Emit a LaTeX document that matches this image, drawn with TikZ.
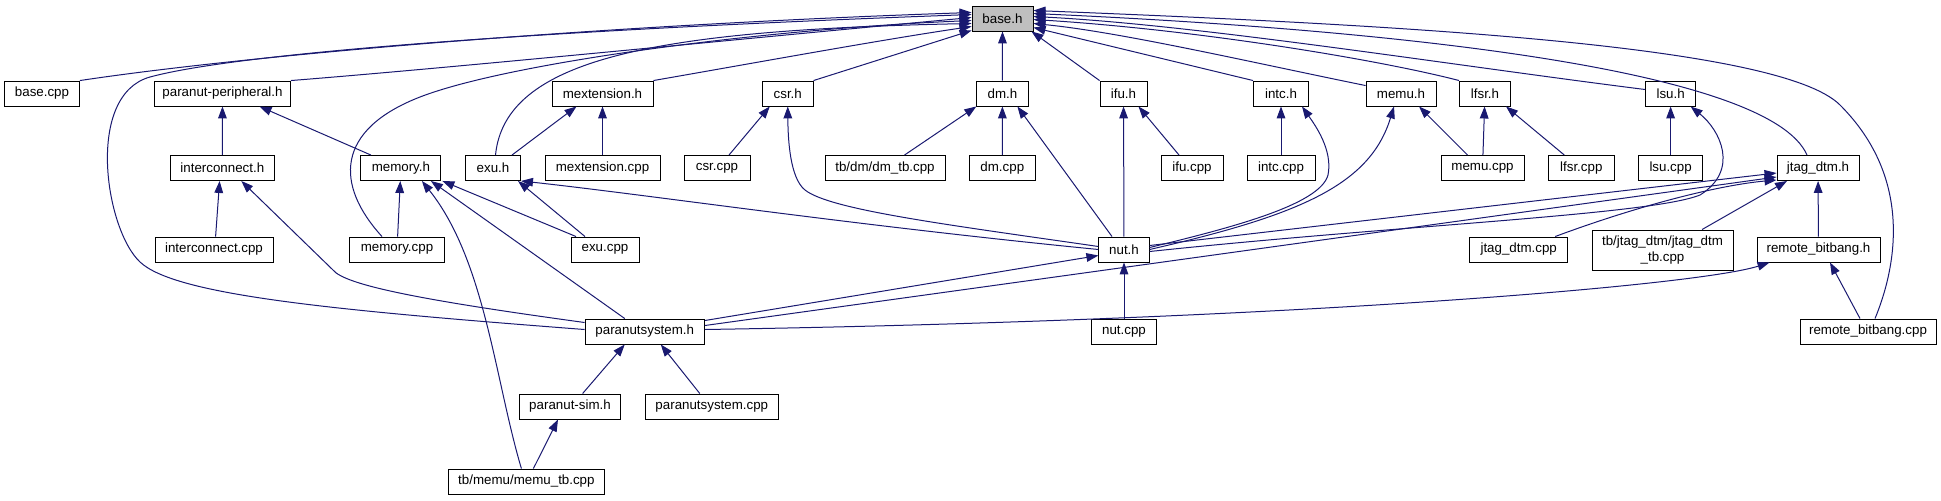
\documentclass[tikz,border=0pt]{standalone}
\usepackage{fontspec}
\setmainfont{Liberation Sans}
\usetikzlibrary{arrows.meta, calc}
\definecolor{edgeblue}{RGB}{25,25,112}
\definecolor{selgray}{RGB}{191,191,191}

\begin{document}
\begin{tikzpicture}[
    x=0.75pt, y=-0.75pt,
    file/.style={rectangle, draw=black, fill=white, line width=0.7pt, minimum height=18.75pt, inner sep=0pt, align=center, font=\fontsize{10}{12.5}\selectfont},
    cur/.style={file, fill=selgray},
    arr/.style={-{Triangle[length=9pt, width=6.5pt]}, line width=0.75pt, color=edgeblue}
]
\useasboundingbox (0,0) rectangle (1941,500);

% the file itself
\node[cur, minimum width=45.75pt] (baseh) at (1002.5,18.5) {base.h};

% direct includers
\node[file, minimum width=56.25pt] (basecpp) at (42,93.5) {base.cpp};
\node[file, minimum width=102pt] (periph) at (222.5,93.5) {paranut-peripheral.h};
\node[file, minimum width=75.75pt] (mexth) at (602.5,93.5) {mextension.h};
\node[file, minimum width=38pt] (csrh) at (787.75,93.5) {csr.h};
\node[file, minimum width=38.4pt] (dmh) at (1002.4,93.5) {dm.h};
\node[file, minimum width=35.25pt] (ifuh) at (1123.5,93.5) {ifu.h};
\node[file, minimum width=41.25pt] (intch) at (1281,93.5) {intc.h};
\node[file, minimum width=52.5pt] (memuh) at (1401,93.5) {memu.h};
\node[file, minimum width=38.25pt] (lfsrh) at (1485,93.5) {lfsr.h};
\node[file, minimum width=37.5pt] (lsuh) at (1670.6,93.5) {lsu.h};

\node[file, minimum width=78.5pt] (interh) at (222.3,168) {interconnect.h};
\node[file, minimum width=60pt] (memoryh) at (400.9,168) {memory.h};
\node[file, minimum width=41.25pt] (exuh) at (493,168) {exu.h};
\node[file, minimum width=86.25pt] (mextcpp) at (602.5,168) {mextension.cpp};
\node[file, minimum width=49.5pt] (csrcpp) at (717,168) {csr.cpp};
\node[file, minimum width=90pt] (dmtbcpp) at (885,168) {tb/dm/dm\_tb.cpp};
\node[file, minimum width=49pt] (dmcpp) at (1002.3,168) {dm.cpp};
\node[file, minimum width=46.5pt] (ifucpp) at (1192,168) {ifu.cpp};
\node[file, minimum width=51pt] (intccpp) at (1281,168) {intc.cpp};
\node[file, minimum width=62.25pt] (memucpp) at (1482.5,168) {memu.cpp};
\node[file, minimum width=49pt] (lfsrcpp) at (1581.3,168) {lfsr.cpp};
\node[file, minimum width=48pt] (lsucpp) at (1670.6,168) {lsu.cpp};
\node[file, minimum width=61.5pt] (jtagh) at (1818,168) {jtag\_dtm.h};

\node[file, minimum width=88.5pt] (intercpp) at (214,249.5) {interconnect.cpp};
\node[file, minimum width=71.25pt] (memorycpp) at (397,249.5) {memory.cpp};
\node[file, minimum width=51pt] (exucpp) at (605,249.5) {exu.cpp};
\node[file, minimum width=37.7pt] (nuth) at (1124,249.5) {nut.h};
\node[file, minimum width=73.5pt] (jtagcpp) at (1518.7,249.5) {jtag\_dtm.cpp};
\node[file, minimum width=105.75pt, minimum height=30pt] (jtagtbcpp) at (1662.5,250) {tb/jtag\_dtm/jtag\_dtm\\\_tb.cpp};
\node[file, minimum width=92.25pt] (rbbh) at (1818.5,249.5) {remote\_bitbang.h};

\node[file, minimum width=89.6pt] (psysh) at (644.75,331.5) {paranutsystem.h};
\node[file, minimum width=49.3pt] (nutcpp) at (1124,331.5) {nut.cpp};
\node[file, minimum width=102pt] (rbbcpp) at (1868,331.5) {remote\_bitbang.cpp};

\node[file, minimum width=75.4pt] (simh) at (570,406.5) {paranut-sim.h};
\node[file, minimum width=100.2pt] (psyscpp) at (711.8,406.5) {paranutsystem.cpp};

\node[file, minimum width=116.5pt] (memutb) at (526.4,481.5) {tb/memu/memu\_tb.cpp};

% into base.h
\draw[arr] (basecpp.north east) .. controls (250,55) and (600,25) .. ($(baseh.west)+(0,-6)$);
\draw[arr] ($(psysh.west)+(0,-2)$) .. controls (330,310) and (175,295) .. (140,262) .. controls (105,229) and (85,95) .. (150,77) .. controls (250,50) and (600,28) .. ($(baseh.west)+(0,-4)$);
\draw[arr] (periph.north east) .. controls (450,68) and (750,38) .. ($(baseh.west)+(0,-1)$);
\draw[arr] ($(memorycpp.north)+(-15,0)$) .. controls (335,185) and (335,130) .. (420,97) .. controls (505,64) and (750,30) .. ($(baseh.west)+(0,2)$);
\draw[arr] ($(exuh.north)+(2.5,0)$) .. controls (505,60) and (650,30) .. ($(baseh.west)+(0,5)$);
\draw[arr] (mexth.north east) .. controls (760,62) and (880,40) .. ($(baseh.west)+(0,8)$);
\draw[arr] (csrh.north east) -- ($(baseh.south west)+(0,-1)$);
\draw[arr] (dmh) -- (baseh);
\draw[arr] (ifuh.north west) -- ($(baseh.south east)+(-2,0)$);
\draw[arr] (intch.north west) -- ($(baseh.east)+(0,9)$);
\draw[arr] ($(memuh.north west)+(0,5)$) .. controls (1250,62) and (1120,32) .. ($(baseh.east)+(0,5)$);
\draw[arr] (lfsrh.north west) .. controls (1380,60) and (1200,30) .. ($(baseh.east)+(0,1)$);
\draw[arr] ($(lsuh.west)+(0,-4)$) .. controls (1450,65) and (1200,25) .. ($(baseh.east)+(0,-2)$);
\draw[arr] ($(jtagh.north)+(-11,0)$) .. controls (1770,70) and (1400,30) .. ($(baseh.east)+(0,-5)$);
\draw[arr] ($(rbbcpp.north)+(7,0)$) .. controls (1895,270) and (1915,180) .. (1840,105) .. controls (1780,45) and (1400,25) .. ($(baseh.east)+(0,-8)$);

% second level
\draw[arr] (interh) -- (periph);
\draw[arr] ($(memoryh.north)+(-30,0)$) -- ($(periph.south)+(37,0)$);
\draw[arr] ($(exuh.north)+(19,0)$) -- ($(mexth.south)+(-26,0)$);
\draw[arr] (mextcpp) -- (mexth);
\draw[arr] ($(csrcpp.north)+(12,0)$) -- ($(csrh.south)+(-18,0)$);
\draw[arr] ($(nuth.west)+(0,-3)$) .. controls (950,225) and (830,210) .. (805,190) .. controls (790,178) and (788,140) .. (csrh.south);
\draw[arr] ($(dmtbcpp.north)+(19.5,0)$) -- (dmh.south west);
\draw[arr] (dmcpp) -- (dmh);
\draw[arr] ($(nuth.north)+(-12,0)$) -- ($(dmh.south)+(15,0)$);
\draw[arr] (nuth) -- (ifuh);
\draw[arr] ($(ifucpp.north)+(-13,0)$) -- ($(ifuh.south)+(15,0)$);
\draw[arr] (intccpp) -- (intch);
\draw[arr] ($(nuth.east)+(0,-2)$) .. controls (1230,228) and (1320,205) .. (1328,175) .. controls (1333,150) and (1315,125) .. ($(intch.south)+(21,0)$);
\draw[arr] ($(memucpp.north)+(-15,0)$) -- ($(memuh.south)+(18,0)$);
\draw[arr] (nuth.east) .. controls (1300,215) and (1370,185) .. ($(memuh.south)+(-7,0)$);
\draw[arr] (memucpp) -- (lfsrh);
\draw[arr] ($(lfsrcpp.north)+(-17,0)$) -- ($(lfsrh.south)+(21,0)$);
\draw[arr] (lsucpp) -- (lsuh);
\draw[arr] ($(nuth.east)+(0,2)$) .. controls (1400,225) and (1650,215) .. (1700,195) .. controls (1740,170) and (1720,130) .. ($(lsuh.south)+(20,0)$);

% jtag_dtm.h and remote_bitbang.h
\draw[arr] ($(nuth.east)+(0,-4)$) -- ($(jtagh.west)+(0,5)$);
\draw[arr] ($(psysh.east)+(0,-6)$) -- ($(jtagh.west)+(0,9)$);
\draw[arr] ($(jtagcpp.north east)+(-13,0)$) .. controls (1640,205) and (1720,185) .. ($(jtagh.west)+(0,12)$);
\draw[arr] ($(jtagtbcpp.north)+(39.5,0)$) -- ($(jtagh.south)+(-31,0)$);
\draw[arr] (rbbh) -- (jtagh);
\draw[arr] ($(psysh.east)+(0,-2)$) .. controls (1300,320) and (1700,285) .. ($(rbbh.south west)+(13,0)$);
\draw[arr] ($(rbbcpp.north)+(-8,0)$) -- ($(rbbh.south)+(11.5,0)$);

% left part
\draw[arr] ($(intercpp.north)+(1.6,0)$) -- ($(interh.south)+(-2.7,0)$);
\draw[arr] ($(psysh.west)+(0,-9)$) .. controls (420,300) and (345,285) .. (333,270) -- ($(interh.south)+(19,0)$);
\draw[arr] (memorycpp) -- (memoryh);
\draw[arr] ($(exucpp.north)+(-29,0)$) -- ($(memoryh.south east)+(1,0)$);
\draw[arr] ($(psysh.north)+(-20,0)$) -- ($(memoryh.south)+(30,0)$);
\draw[arr] ($(memutb.north)+(-5,0)$) .. controls (495,380) and (485,260) .. ($(memoryh.south)+(21,0)$);
\draw[arr] ($(exucpp.north)+(-20,0)$) -- ($(exuh.south)+(25,0)$);
\draw[arr] (nuth.west) .. controls (850,225) and (650,195) .. (exuh.south east);
\draw[arr] ($(psysh.east)+(0,-11)$) -- ($(nuth.west)+(0,6)$);
\draw[arr] (nutcpp) -- (nuth);
\draw[arr] ($(simh.north)+(12.6,0)$) -- ($(psysh.south)+(-20,0)$);
\draw[arr] ($(psyscpp.north)+(-12,0)$) -- ($(psysh.south)+(16,0)$);
\draw[arr] ($(memutb.north)+(7,0)$) -- ($(simh.south)+(-12,0)$);
\end{tikzpicture}
\end{document}
